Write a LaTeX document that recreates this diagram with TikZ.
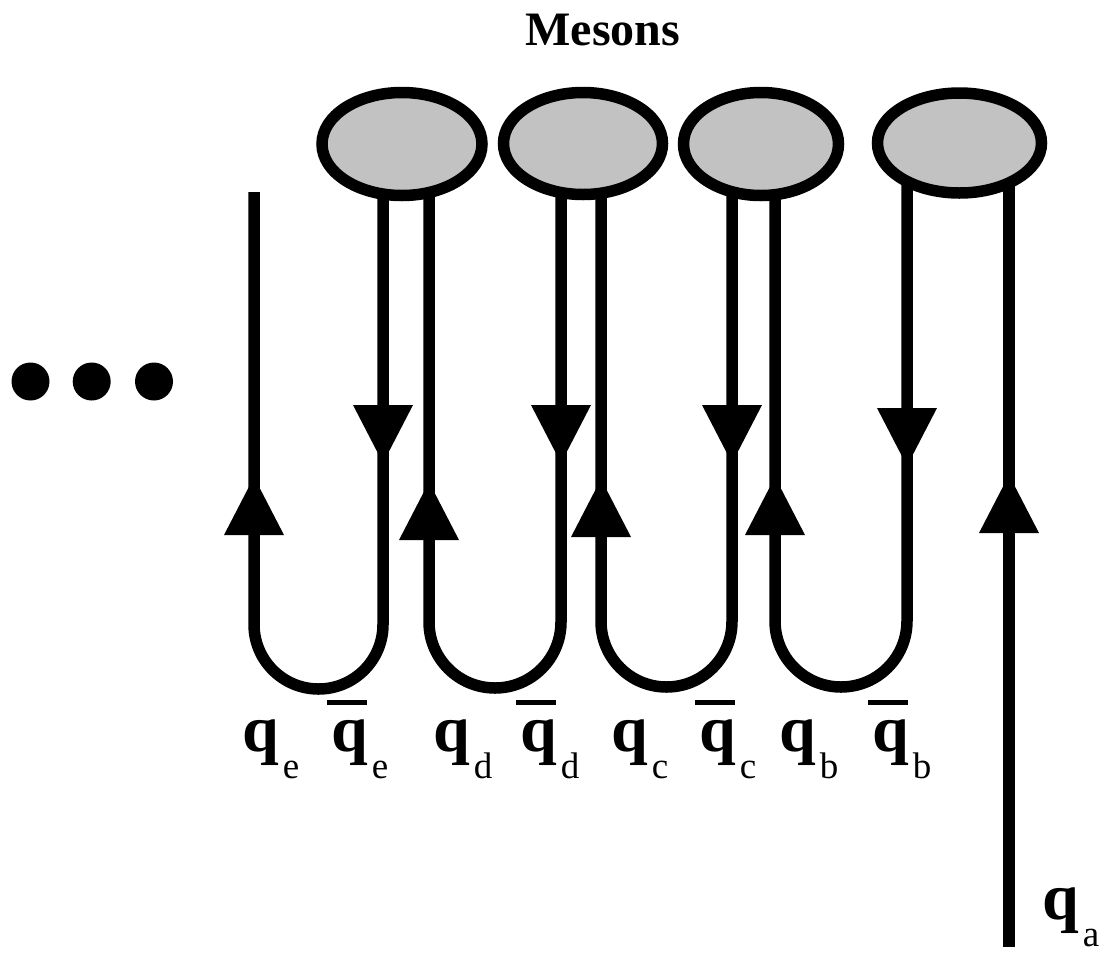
\documentclass[tikz,border=0pt]{standalone}
\usepackage{fontspec}
\setmainfont{Liberation Serif}
\usetikzlibrary{shapes.geometric,calc,backgrounds}
\newcommand\qlab[1]{{\fontsize{66}{66}\selectfont\bfseries q}\hspace{4pt}\raisebox{-27pt}{\fontsize{37}{37}\selectfont #1}}
\newcommand\qbarlab[1]{\rlap{\hspace{-4pt}\raisebox{46pt}{\rule{40pt}{5.5pt}}}\qlab{#1}}
\newcommand\uparr[2]{\fill (#1-30,#2) -- (#1+30,#2) -- (#1,#2-58) -- cycle;}
\newcommand\downarr[2]{\fill (#1-30,#2) -- (#1+30,#2) -- (#1,#2+58) -- cycle;}
\begin{document}
\begin{tikzpicture}[x=1pt,y=-1pt,
  quark/.style={line width=11.5pt},
  meson/.style={ellipse, draw, line width=11.5pt, fill=black!24, inner sep=0pt},
  blob/.style={circle, fill, inner sep=0pt, minimum size=38pt},
  lab/.style={anchor=base west, inner sep=0pt}]
\useasboundingbox (0,0) rectangle (1106,954);

\node[anchor=base, inner sep=0pt, font=\fontsize{48}{48}\selectfont\bfseries] (title) at (603,45) {Mesons};

\node[meson, minimum width=160pt, minimum height=103pt] (m1) at (402,144) {};
\node[meson, minimum width=159pt, minimum height=102pt] (m2) at (583,143.5) {};
\node[meson, minimum width=155pt, minimum height=103pt] (m3) at (761,144) {};
\node[meson, minimum width=164pt, minimum height=100pt] (m4) at (959.5,143) {};

\node[blob] (d1) at (30.5,381.5) {};
\node[blob] (d2) at (91.7,381.5) {};
\node[blob] (d3) at (154,381.5) {};

\coordinate (qeEnd) at (254,192);
\coordinate (qaEnd) at (1009,947);

\begin{pgfonlayer}{background}
\draw[quark] ($(m1.center)+(-19,25)$) -- (383,624.5)
  .. controls (383,660.1) and (354.1,689) .. (318.5,689)
  .. controls (282.9,689) and (254,660.1) .. (254,624.5) -- (qeEnd);
\draw[quark] ($(m2.center)+(-22,25)$) -- (561,622)
  .. controls (561,658.5) and (531.5,688) .. (495,688)
  .. controls (458.5,688) and (429,658.5) .. (429,622) -- ($(m1.center)+(27,25)$);
\draw[quark] ($(m3.center)+(-29,25)$) -- (732,621.5)
  .. controls (732,657.7) and (702.7,687) .. (666.5,687)
  .. controls (630.3,687) and (601,657.7) .. (601,621.5) -- ($(m2.center)+(18,25)$);
\draw[quark] ($(m4.center)+(-52.5,25)$) -- (907,621)
  .. controls (907,657.5) and (877.5,687) .. (841,687)
  .. controls (804.5,687) and (775,657.5) .. (775,621) -- ($(m3.center)+(14,25)$);
\draw[quark] (qaEnd) -- ($(m4.center)+(49.5,25)$);
\end{pgfonlayer}

\uparr{254}{535}
\uparr{429}{540}
\uparr{601}{537}
\uparr{775}{535}
\uparr{1009}{533}
\downarr{383}{405}
\downarr{561}{405}
\downarr{732}{405}
\downarr{907}{408}

\node[lab] (lqe) at (242,751) {\qlab{e}};
\node[lab] (lqbe) at (331,751) {\qbarlab{e}};
\node[lab] (lqd) at (433,751) {\qlab{d}};
\node[lab] (lqbd) at (520,751) {\qbarlab{d}};
\node[lab] (lqc) at (611,751) {\qlab{c}};
\node[lab] (lqbc) at (699,751) {\qbarlab{c}};
\node[lab] (lqb) at (779,751) {\qlab{b}};
\node[lab] (lqbb) at (872,751) {\qbarlab{b}};
\node[lab] (lqa) at (1042,919) {\qlab{a}};
\end{tikzpicture}
\end{document}
